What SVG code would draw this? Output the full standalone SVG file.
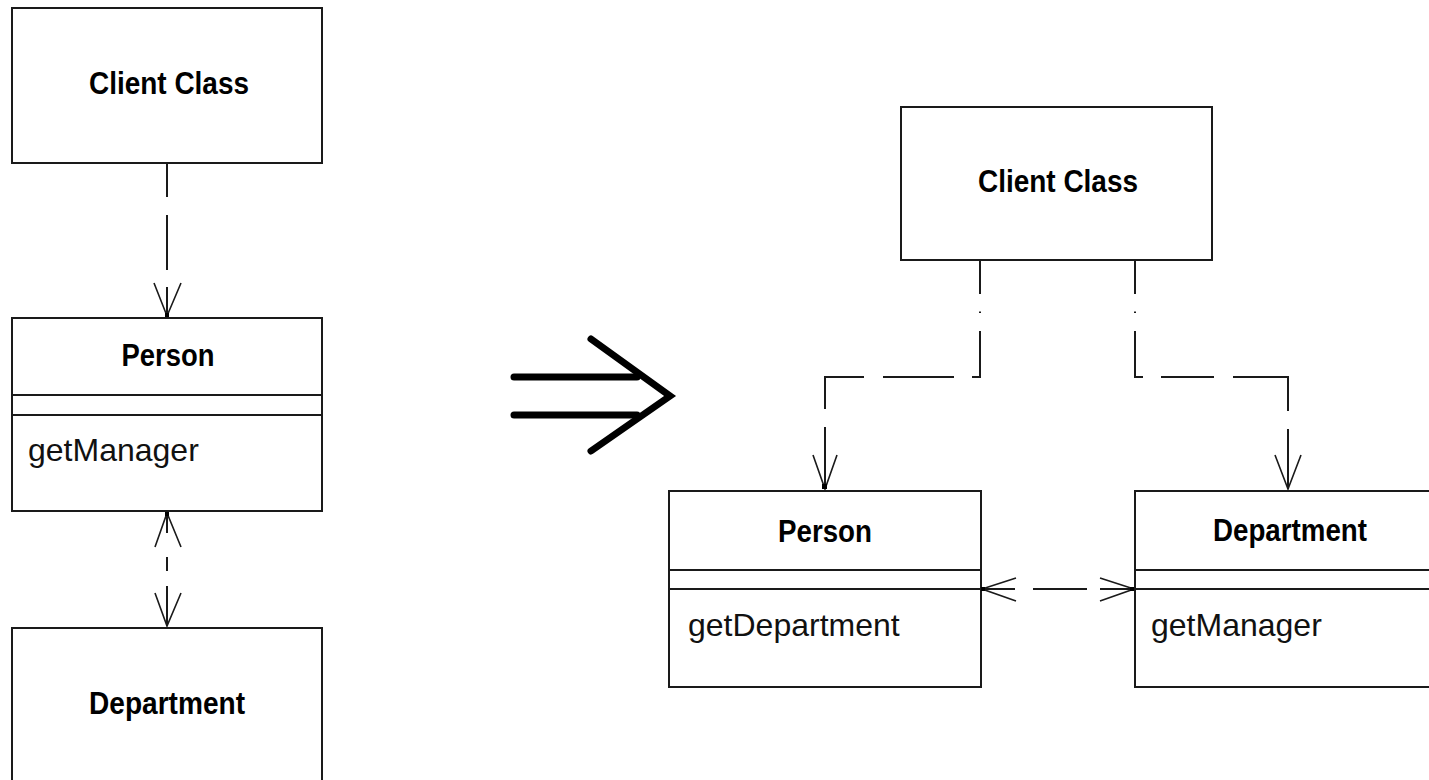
<svg xmlns="http://www.w3.org/2000/svg" width="1429" height="780" viewBox="0 0 1429 780">
<style>
.box{fill:#fff;stroke:#1a1a1a;stroke-width:2}
.div{stroke:#1a1a1a;stroke-width:2}
.t{font-family:"Liberation Sans",Arial,sans-serif;font-weight:bold;font-size:31px;fill:#000;text-anchor:middle}
.op{font-family:"Liberation Sans",Arial,sans-serif;font-size:32px;fill:#111}
.ln{stroke:#1a1a1a;stroke-width:2;fill:none}
.hd{stroke:#1a1a1a;stroke-width:1.6;fill:none}
.dot{fill:#000}
.big{stroke:#000;stroke-width:7;fill:none;stroke-linecap:round;stroke-linejoin:miter}
</style>
<rect width="1429" height="780" fill="#fff"/>

<g id="left-client">
<rect class="box" x="12" y="8" width="310" height="155"/>
<text class="t" x="169" y="94" textLength="160" lengthAdjust="spacingAndGlyphs">Client Class</text>
</g>
<g id="left-person">
<rect class="box" x="12" y="318" width="310" height="193"/>
<line class="div" x1="12" y1="395" x2="322" y2="395"/>
<line class="div" x1="12" y1="415" x2="322" y2="415"/>
<text class="t" x="168" y="366" textLength="93" lengthAdjust="spacingAndGlyphs">Person</text>
<text class="op" x="28" y="461">getManager</text>
</g>
<g id="left-department">
<rect class="box" x="12" y="628" width="310" height="200"/>
<text class="t" x="167" y="714" textLength="156" lengthAdjust="spacingAndGlyphs">Department</text>
</g>

<g id="transform-arrow">
<line class="big" x1="514" y1="377" x2="637" y2="377" stroke-linecap="butt"/>
<line class="big" x1="514" y1="415" x2="637" y2="415" stroke-linecap="butt"/>
<polyline class="big" points="591,339 670,396 591,451"/>
</g>

<g id="right-client">
<rect class="box" x="901" y="107" width="311" height="153"/>
<text class="t" x="1058" y="192" textLength="160" lengthAdjust="spacingAndGlyphs">Client Class</text>
</g>
<g id="right-person">
<rect class="box" x="669" y="491" width="312" height="196"/>
<line class="div" x1="669" y1="570" x2="981" y2="570"/>
<line class="div" x1="669" y1="589" x2="981" y2="589"/>
<text class="t" x="825" y="542" textLength="94" lengthAdjust="spacingAndGlyphs">Person</text>
<text class="op" x="688" y="636">getDepartment</text>
</g>
<g id="right-department">
<rect class="box" x="1135" y="491" width="312" height="196"/>
<line class="div" x1="1135" y1="570" x2="1447" y2="570"/>
<line class="div" x1="1135" y1="589" x2="1447" y2="589"/>
<text class="t" x="1290" y="541" textLength="154" lengthAdjust="spacingAndGlyphs">Department</text>
<text class="op" x="1151" y="636">getManager</text>
</g>

<g id="connectors">
<!-- left: Client -> Person -->
<path class="ln" d="M167,163V197M167,215V270M167,287V316"/>
<path class="hd" d="M154,283L167,316L181,283"/>
<rect class="dot" x="165" y="313" width="4" height="4"/>
<!-- left: Person <-> Department -->
<path class="ln" d="M167,513V533M167,557V571M167,586V626"/>
<path class="hd" d="M155,547L167,513L181,547M155,593L167,626L181,593"/>
<rect class="dot" x="165" y="512" width="4" height="4"/>
<!-- right: Client -> Person -->
<path class="ln" d="M980,260V294M980,311.5V313M980,331V377H972M954,377H883M864,377H825V409M825,427V489"/>
<path class="hd" d="M813,455L825,489L837,455"/>
<rect class="dot" x="822" y="484" width="5" height="5"/>
<!-- right: Client -> Department -->
<path class="ln" d="M1135,260V294M1135,311.5V313M1135,331V377H1143M1161,377H1214M1233,377H1288V411M1288,429V489"/>
<path class="hd" d="M1275,455L1288,489L1301,455"/>
<!-- right: Person <-> Department -->
<path class="ln" d="M982,589H1015M1033,589H1087M1100,589H1134"/>
<path class="hd" d="M1016,578L982,589L1016,601M1100,578L1134,589L1100,601"/>
<rect class="dot" x="981" y="587" width="4" height="4"/>
<rect class="dot" x="1130" y="587" width="4" height="4"/>
</g>
</svg>
